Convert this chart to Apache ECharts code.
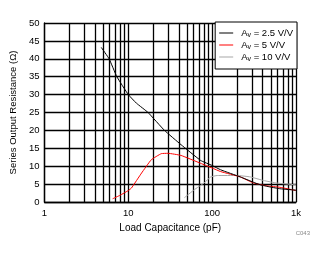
<!DOCTYPE html>
<html><head><meta charset="utf-8">
<script src="https://cdn.jsdelivr.net/npm/echarts@6/dist/echarts.min.js"></script>
<style>html,body{margin:0;padding:0;background:#fff}#c{width:325px;height:254px}</style>
</head><body><div id="c"></div>
<script>
var seriesNames = ['2.5', '5', '10'];
var colors = ['#000000', '#ff0000', '#a6a6a6'];
var av25 = [[4.75,43.2],[5.9,40],[7.3,35],[10,30],[12.5,27.6],[17.2,25],[27,20],[42.6,16],[73,11.6],[100,10.2],[126,9.0],[217,7.0],[312,5.5],[375,4.8],[490,4.2],[646,3.7],[1000,3.3]];
var av5 = [[6.5,0.9],[8,1.9],[10,3.2],[10.9,3.9],[14.4,8.1],[18.8,11.8],[24.7,13.5],[29.7,13.6],[42.6,13.0],[73,10.8],[100,9.5],[126,8.5],[217,7.0],[312,5.3],[450,4.5],[646,4.1],[1000,3.2]];
var av10 = [[46.6,1.2],[61,3.4],[80,5.3],[96,7.0],[115,7.4],[200,7.4],[286,7.0],[410,6.0],[590,5.3],[1000,4.8]];
var minorX = [2,3,4,5,6,7,8,9,20,30,40,50,60,70,80,90,200,300,400,500,600,700,800,900];
var xTickLabels = {1:'1',10:'10',100:'100',1000:'1k'};
var yTicks = [0,5,10,15,20,25,30,35,40,45,50];

var chart = echarts.init(document.getElementById('c'), null, {renderer:'canvas'});
var font = 'Liberation Sans, Arial, sans-serif';
var fs = 9.5;
var data = [av25, av5, av10];
var series = data.map(function(d, i){
  var s = {
    name: 'Av = ' + seriesNames[i] + ' V/V',
    type: 'line', data: d, symbol: 'none', smooth: 0.12,
    lineStyle: {color: colors[i], width: 1}, itemStyle: {color: colors[i]},
    z: 5 + (2 - i)
  };
  if (i === 0) {
    s.markLine = {silent: true, symbol: 'none', label: {show: false},
      lineStyle: {color: '#000', width: 1.3, type: 'solid'}, animation: false,
      data: minorX.map(function(v){ return {xAxis: v}; }), z: 1};
  }
  return s;
});
chart.setOption({
  animation: false,
  grid: {left: 42, right: 29, top: 23, bottom: 52},
  legend: {
    orient: 'vertical', right: 28, top: 22, itemWidth: 14, itemHeight: 8, itemGap: 0,
    padding: [5, 4, 6, 4], backgroundColor: '#fff', borderColor: '#000', borderWidth: 1, borderRadius: 0,
    icon: 'path://M0,4L14,4L14,5L0,5Z',
    data: series.map(function(s){ return s.name; }),
    formatter: function(n){ return 'A{s|v}' + n.slice(2); },
    textStyle: {fontFamily: font, fontSize: 9.5, lineHeight: 12, color: '#000', padding: [0,0,0,3],
      rich: {s: {fontSize: 7, lineHeight: 12, verticalAlign: 'bottom', padding: [3,0,0,0], fontFamily: font}}}
  },
  xAxis: {
    type: 'log', logBase: 10, min: 1, max: 1000,
    name: 'Load Capacitance (pF)', nameLocation: 'middle', nameGap: 18,
    nameTextStyle: {fontFamily: font, fontSize: fs + 0.5, color: '#000'},
    axisLine: {show: true, lineStyle: {color: '#000', width: 1.3}},
    axisTick: {show: false},
    axisLabel: {fontFamily: font, fontSize: fs, color: '#000', margin: 6,
      formatter: function(v){ return xTickLabels[Math.round(v)] || ''; }},
    splitLine: {show: true, lineStyle: {color: '#000', width: 1.3}}
  },
  yAxis: {
    type: 'value', min: 0, max: 50, interval: 5,
    name: 'Series Output Resistance (Ω)', nameLocation: 'middle', nameGap: 20,
    nameTextStyle: {fontFamily: font, fontSize: fs, color: '#000'},
    axisLine: {show: true, lineStyle: {color: '#000', width: 1.3}},
    axisTick: {show: false},
    axisLabel: {fontFamily: font, fontSize: fs, color: '#000', margin: 5,
      formatter: function(v){ return yTicks.indexOf(v) >= 0 ? String(v) : ''; }},
    splitLine: {show: true, lineStyle: {color: '#000', width: 1.3}}
  },
  graphic: [{type: 'text', right: 15, top: 230, style: {text: 'C043', fontFamily: font, fontSize: 6, fill: '#888'}}],
  series: series
});
</script></body></html>
